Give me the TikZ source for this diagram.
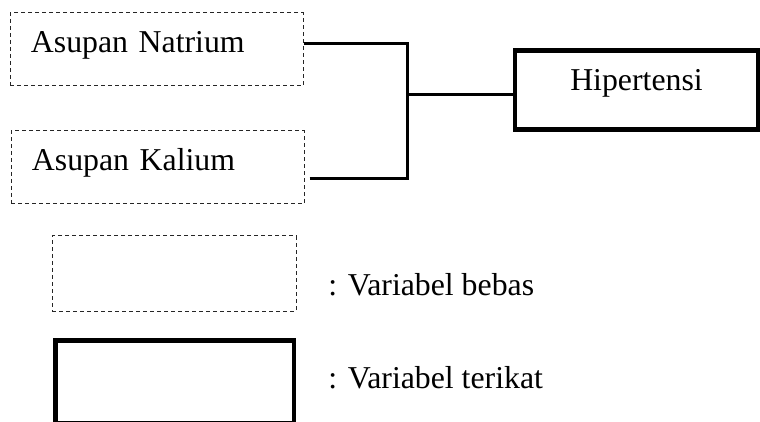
\documentclass[tikz,border=0pt]{standalone}
\usepackage{fontspec}
\setmainfont{Liberation Serif}
\usepackage{tikz}
\usetikzlibrary{positioning, calc}

\begin{document}
\begin{tikzpicture}[
    x=0.5pt, y=-0.5pt,
    font=\fontsize{15.9}{19}\selectfont,
    % Styles
    varbox/.style={draw=black!85, line width=0.5pt, dash pattern=on 2pt off 1.5pt, inner sep=0pt, minimum width=146.5pt, minimum height=36.5pt},
    depbox/.style={draw=black, line width=2.2pt, inner sep=0pt},
    legtext/.style={inner sep=0pt, anchor=base west},
    link/.style={draw=black, line width=1.5pt}
]
    \useasboundingbox (0,0) rectangle (760,422);

    % Variabel bebas
    \node (natrium) [varbox, text width=125.5pt, inner xsep=10.5pt, align=left,
        text height=20pt, text depth=16.5pt] at (156.5,49.5) {Asupan Natrium};
    \node (kalium) [varbox, text width=125.5pt, inner xsep=10.5pt, align=left,
        text height=19.5pt, text depth=16pt] at (157.5,167.5) {Asupan Kalium};

    % Variabel terikat
    \node (hipertensi) [depbox, minimum width=121.5pt, text height=20.25pt, text depth=19.25pt]
        at (636.5,90) {Hipertensi};

    % Connectors
    \coordinate (junction) at (407,95);
    \draw [link] ([yshift=3.1pt]natrium.east) -| (junction);
    \draw [link] ([xshift=2.5pt,yshift=-5.4pt]kalium.east) -| (junction);
    \draw [link] (junction) -- ([yshift=-2.5pt]hipertensi.west);

    % Legend
    \node (leg_bebas) [varbox, minimum width=122pt, minimum height=37.5pt] at (174,273.5) {};
    \node (leg_terikat) [depbox, minimum width=119.25pt, minimum height=41.25pt] at (174.75,381.75) {};
    \node (leg_bebas_text) [legtext] at (328,295) {: Variabel bebas};
    \node (leg_terikat_text) [legtext] at (328,388) {: Variabel terikat};

\end{tikzpicture}
\end{document}
